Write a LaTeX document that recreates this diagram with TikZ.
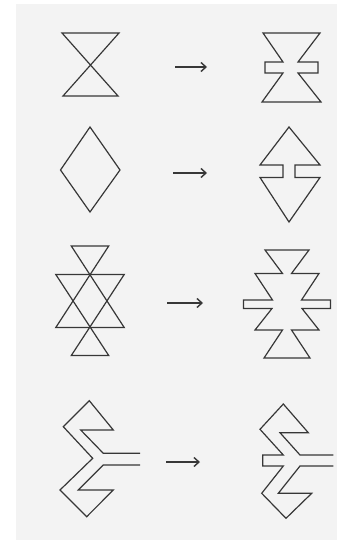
\documentclass[tikz,border=0pt]{standalone}
\usetikzlibrary{arrows.meta}
\definecolor{paper}{RGB}{243,243,243}
\definecolor{ink}{RGB}{55,55,55}
\tikzset{
  shape line/.style={draw=ink, line width=1.2pt, line join=miter},
  arrow line/.style={draw=ink, line width=1.5pt, -{Straight Barb[length=5pt,width=9pt,line width=1.4pt]}}
}
\begin{document}
\begin{tikzpicture}[x=1pt,y=-1pt]
\fill[white] (0,0) rectangle (360,540);
\useasboundingbox (0,0) rectangle (360,540);
\fill[paper] (16,4) rectangle (337,540);

% Row 1
\draw[shape line] (62,33) -- (119,33) -- (63,96) -- (118,96) -- cycle;
\draw[shape line] (263,33) -- (320,33) -- (298,62) -- (318,62) -- (318,73) -- (298,73)
  -- (321,102) -- (262,102) -- (283,73) -- (265,73) -- (265,62) -- (283,62) -- cycle;

% Row 2
\draw[shape line] (90,127) -- (120,170) -- (90,212) -- (60.5,170) -- cycle;
\draw[shape line] (289,127) -- (320,165) -- (295,165) -- (295,177.5) -- (320,177.5)
  -- (289,222) -- (260,177.5) -- (283,177.5) -- (283,165) -- (260,165) -- cycle;

% Row 3
\draw[shape line] (71.3,246) -- (108.7,246) -- (55.8,327.5) -- (124.2,327.5) -- cycle;
\draw[shape line] (55.8,274.5) -- (124.2,274.5) -- (71.3,355.5) -- (108.7,355.5) -- cycle;
\draw[shape line] (265,250) -- (309,250) -- (291.5,273.5) -- (319,273.5) -- (301.5,300)
  -- (330.5,300) -- (330.5,308.5) -- (302,308.5) -- (319,330) -- (291.5,330)
  -- (310,358) -- (264,358) -- (282.5,330) -- (255,330) -- (272,308.5)
  -- (243.5,308.5) -- (243.5,300) -- (272.5,300) -- (255,273.5) -- (282.5,273.5) -- cycle;

% Row 4
\draw[shape line] (140,453.3) -- (103.3,453.3) -- (80.7,430) -- (113.3,430) -- (89.3,400.7)
  -- (63.3,426.7) -- (92.7,458.3) -- (60,490) -- (86.7,516.7) -- (113.3,490)
  -- (78.3,490) -- (103.3,465) -- (140,465);
\draw[shape line] (333.3,455) -- (300,455) -- (280,432.7) -- (308.3,432.7) -- (283.3,404)
  -- (260,429.3) -- (283.3,455) -- (262.7,455) -- (262.7,466) -- (283.3,466)
  -- (261.7,493.3) -- (286,518.3) -- (311.7,493.3) -- (278.3,493.3) -- (300,466)
  -- (333.3,466);

% Arrows
\coordinate (a1s) at (175,67);  \coordinate (a1e) at (207,67);
\coordinate (a2s) at (173,173); \coordinate (a2e) at (207,173);
\coordinate (a3s) at (167,303); \coordinate (a3e) at (203,303);
\coordinate (a4s) at (166,462); \coordinate (a4e) at (200,462);
\draw[arrow line] (a1s) -- (a1e);
\draw[arrow line] (a2s) -- (a2e);
\draw[arrow line] (a3s) -- (a3e);
\draw[arrow line] (a4s) -- (a4e);
\end{tikzpicture}
\end{document}
